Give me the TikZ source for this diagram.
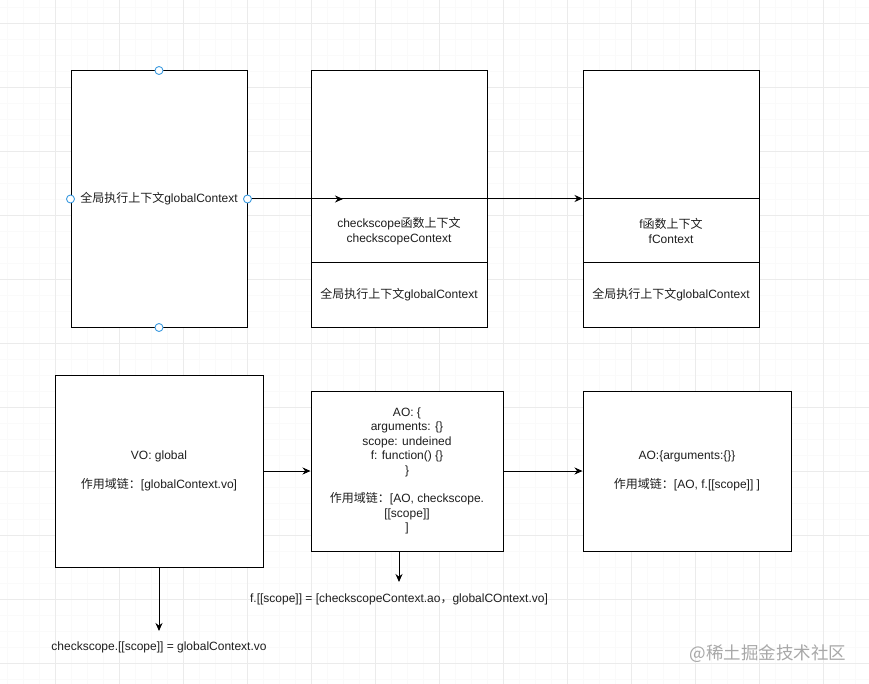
\documentclass[tikz,border=0pt]{standalone}
\usepackage{fontspec}
\setmainfont{Liberation Sans}
\newfontfamily\cjk{Noto Sans CJK SC}
\newcommand\zh[1]{{\cjk #1}}
\usetikzlibrary{arrows.meta,calc}
\definecolor{gridmaj}{HTML}{EBEBEB}
\definecolor{gridmin}{HTML}{FAFAFA}
\definecolor{handlec}{HTML}{3D9BE0}
\definecolor{wmc}{HTML}{A8A8A8}
\definecolor{txt}{HTML}{1E1E1E}
\begin{document}
\begin{tikzpicture}[x=1pt,y=-1pt,
  font=\fontsize{12}{14.4}\selectfont,
  box/.style={draw=black,line width=1pt,fill=white,inner sep=0pt,text=txt,align=center},
  handle/.style={circle,draw=handlec,fill=white,line width=0.9pt,inner sep=0pt,minimum size=8pt},
  arr/.style={-{Stealth[length=8pt,width=7pt]},line width=1pt,draw=black},
  lab/.style={text=txt,inner sep=0pt,align=center}]
\fill[white] (0,0) rectangle (869,684);
\useasboundingbox (0,0) rectangle (869,684);
% grid
\foreach \x in {7,23,...,871} \draw[gridmin,line width=0.6pt] (\x,0) -- (\x,684);
\foreach \y in {7,23,...,684} \draw[gridmin,line width=0.6pt] (0,\y) -- (869,\y);
\foreach \x in {55,119,...,869} \draw[gridmaj,line width=0.8pt] (\x,0) -- (\x,684);
\foreach \y in {23,87,...,684} \draw[gridmaj,line width=0.8pt] (0,\y) -- (869,\y);

% top row
\node[box,minimum width=176pt,minimum height=256pt] (b1) at (159,199) {\zh{全局执行上下文}globalContext};

\node[box,minimum width=176pt,minimum height=128pt] (b2t) at (399,135) {};
\node[box,minimum width=176pt,minimum height=64pt] (b2m) at (399,231) {checkscope\zh{函数上下文}\\checkscopeContext};
\node[box,minimum width=176pt,minimum height=64pt] (b2b) at (399,295) {\zh{全局执行上下文}globalContext};

\node[box,minimum width=176pt,minimum height=128pt] (b3t) at (671,135) {};
\node[box,minimum width=176pt,minimum height=64pt] (b3m) at (671,231) {f\zh{函数上下文}\\fContext};
\node[box,minimum width=176pt,minimum height=64pt] (b3b) at (671,295) {\zh{全局执行上下文}globalContext};

\coordinate (m1) at (343,199);
\draw[arr] (b1.east) -- (m1);
\draw[arr] (b2m.north east) -- (b3m.north west);

\node[handle] (h1) at (b1.north) {};
\node[handle] (h2) at (b1.west) {};
\node[handle] (h3) at (b1.east) {};
\node[handle] (h4) at (b1.south) {};

% bottom row
\node[box,minimum width=208pt,minimum height=192pt] (b4) at (159,471)
  {VO: global\\[14.4pt]\zh{作用域链：}[globalContext.vo]};
\node[box,minimum width=192pt,minimum height=160pt] (b5) at (407,471)
  {AO: \{\\arguments: \{\}\\scope: undeined\\f: function() \{\}\\\}\\[14.4pt]\zh{作用域链：}[AO, checkscope.\\{}[[scope]]\\{}]};
\node[box,minimum width=208pt,minimum height=160pt] (b6) at (687,471)
  {AO:\{arguments:\{\}\}\\[14.4pt]\zh{作用域链：}[AO, f.[[scope]] ]};

\draw[arr] (b4.east) -- (b5.west);
\draw[arr] (b5.east) -- (b6.west);

\node[lab] (l4) at (159,647) {checkscope.[[scope]] = globalContext.vo};
\coordinate (t4) at (159,631);
\draw[arr] (b4.south) -- (t4);

\node[lab] (l5) at (399,599) {f.[[scope]] = [checkscopeContext.ao\zh{，}globalCOntext.vo]};
\coordinate (t5) at (399,582);
\draw[arr] (b5.south -| t5) -- (t5);

\node[text=wmc,inner sep=0pt,font=\cjk\fontsize{17.5}{20}\selectfont] (wm) at (768,654) {@稀土掘金技术社区};
\end{tikzpicture}
\end{document}
